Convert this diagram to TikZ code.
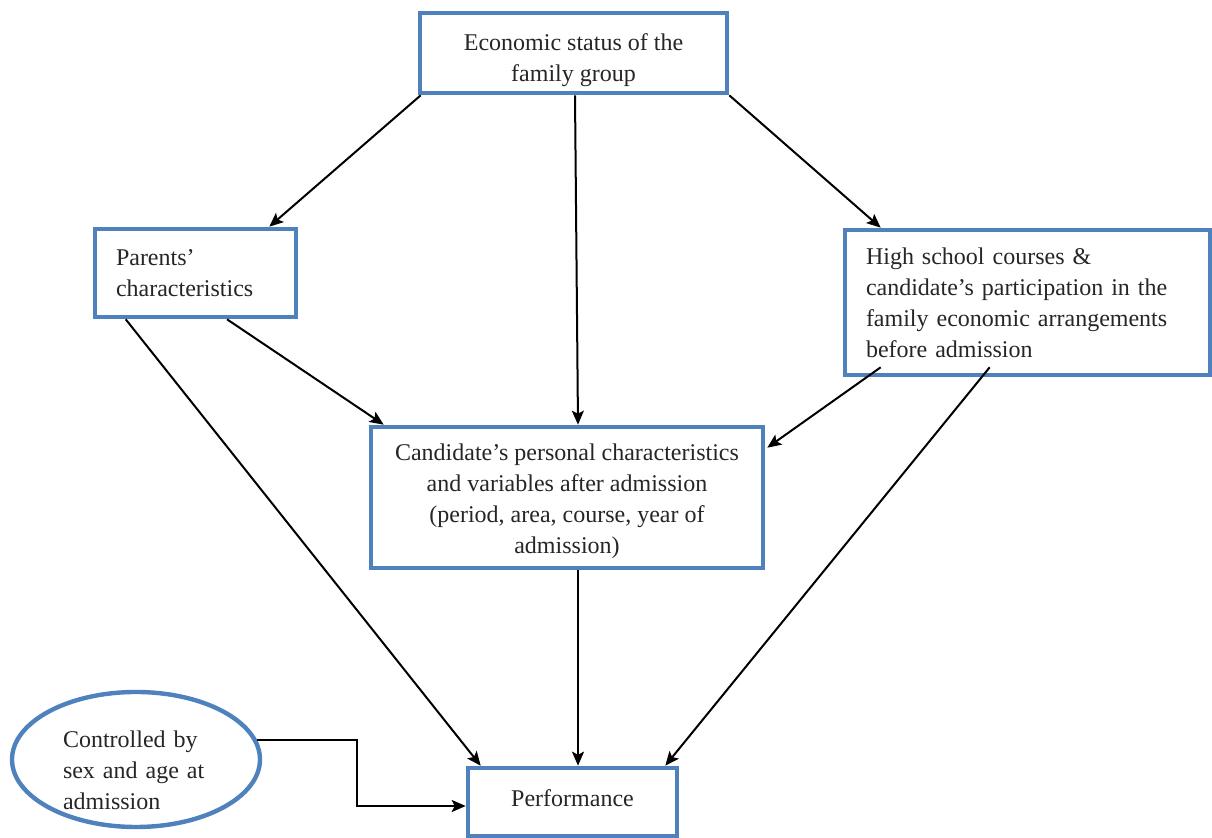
\documentclass[tikz,border=0pt]{standalone}
\usepackage{fontspec}
\setmainfont{Liberation Serif}
\usetikzlibrary{positioning, shapes.geometric, arrows.meta, calc}
\definecolor{boxblue}{RGB}{79,129,189}
\tikzstyle{factor} = [rectangle, draw=boxblue, line width=2.3pt, fill=white, text=black!85, font=\fontsize{12}{15.5}\selectfont, inner sep=0pt]
\tikzstyle{control} = [ellipse, draw=boxblue, line width=2.2pt, fill=white, text=black!85, font=\fontsize{12}{15.5}\selectfont, inner sep=0pt, align=left]
\tikzstyle{arrow} = [line width=1pt, -{Stealth[length=7pt,width=6pt,inset=1.5pt]}]

\begin{document}
\begin{tikzpicture}[x=0.5pt, y=-0.5pt]
	\useasboundingbox [fill=white] (0,0) rectangle (1212,838);

	\node (economic) [factor, minimum width=153.5pt, minimum height=40pt, align=center, text height=32pt, text depth=3pt] at (573.5,53) {Economic status of the\\family group};
	\node (parents) [factor, text width=79.5pt, inner xsep=10.5pt, minimum height=44pt, align=left] at (195.5,273) {Parents'\\characteristics};
	\node (highschool) [factor, text width=161.5pt, inner xsep=10.5pt, minimum height=72.5pt, align=left] at (1027.5,302.5) {High school courses \&\\candidate's participation in the\\family economic arrangements\\before admission};
	\node (candidate) [factor, minimum width=196pt, minimum height=70.5pt, align=center, text height=59pt, text depth=3pt] at (567,497.5) {Candidate's personal characteristics\\and variables after admission\\(period, area, course, year of\\admission)};
	\node (performance) [factor, minimum width=104.5pt, minimum height=34pt, text depth=4pt] at (572.5,802) {Performance};
	\node (sexage) [control, text width=73pt, text depth=20pt, minimum width=124pt, minimum height=67.5pt] at (136,759.5) {Controlled by\\sex and age at\\admission};

	\draw [arrow] ($(economic.south west)+(3,0)$) -- ($(parents.north east)+(-29,0)$);
	\draw [arrow] ($(economic.south)+(1.5,0)$) -- ($(candidate.north)+(11,0)$);
	\draw [arrow] (economic.south east) -- ($(highschool.north west)+(38,0)$);
	\draw [arrow] ($(parents.south)+(31.5,0)$) -- ($(candidate.north west)+(15,0)$);
	\draw [arrow] ($(parents.south west)+(33,0)$) -- ($(performance.north west)+(15,0)$);
	\draw [arrow] ($(highschool.south west)+(38,-10)$) -- ($(candidate.north east)+(2,23)$);
	\draw [arrow] ($(highschool.south west)+(147,-10)$) -- ($(performance.north east)+(-14,0)$);
	\draw [arrow] ($(candidate.south)+(11,0)$) -- ($(performance.north)+(5.5,0)$);
	\draw [arrow] (sexage.9) -- ++(100,0) |- ($(performance.west)+(0,4)$);

\end{tikzpicture}
\end{document}
